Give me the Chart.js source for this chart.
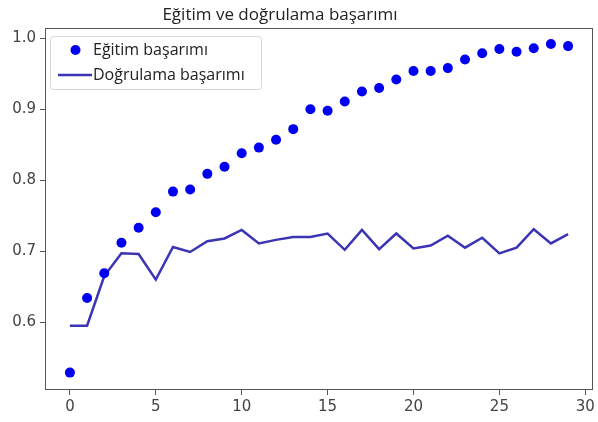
<!DOCTYPE html>
<html lang="tr">
<head>
<meta charset="utf-8">
<title>Eğitim ve doğrulama başarımı</title>
<script src="https://cdn.jsdelivr.net/npm/chart.js@4.4.1/dist/chart.umd.min.js"></script>
<style>
  html, body { margin: 0; padding: 0; background: #fff; overflow: hidden; }
  canvas { display: block; }
</style>
</head>
<body>
<canvas id="acc" width="598" height="422"></canvas>
<script>
// Epoch indices and accuracy per epoch
const epochs = [0, 1, 2, 3, 4, 5, 6, 7, 8, 9, 10, 11, 12, 13, 14,
                15, 16, 17, 18, 19, 20, 21, 22, 23, 24, 25, 26, 27, 28, 29];
const trainAcc = [0.529, 0.634, 0.669, 0.712, 0.733, 0.755, 0.784, 0.787, 0.809, 0.819,
                  0.838, 0.846, 0.857, 0.872, 0.900, 0.898, 0.911, 0.925, 0.930, 0.942,
                  0.954, 0.954, 0.958, 0.970, 0.979, 0.985, 0.981, 0.986, 0.992, 0.989];
const valAcc = [0.595, 0.595, 0.665, 0.697, 0.696, 0.660, 0.706, 0.699, 0.714, 0.718,
                0.730, 0.711, 0.716, 0.720, 0.720, 0.725, 0.702, 0.730, 0.703, 0.725,
                0.704, 0.708, 0.722, 0.705, 0.719, 0.697, 0.705, 0.731, 0.711, 0.724];

const xTicks = [0, 5, 10, 15, 20, 25, 30];
const yTicks = [0.6, 0.7, 0.8, 0.9, 1.0];

const titleText = 'Eğitim ve doğrulama başarımı';
const trainLabel = 'Eğitim başarımı';
const valLabel = 'Doğrulama başarımı';

const axisColor = '#555';
const tickFont = { family: '"DejaVu Sans", sans-serif', size: 15 };
const textFont = '"Open Sans", "Noto Sans", sans-serif';

const points = (ys) => epochs.map((e, i) => ({ x: e, y: ys[i] }));

// Axes frame, title and the in-plot legend box
const decorations = {
  id: 'decorations',
  afterDatasetsDraw(chart) {
    const { ctx, chartArea: a } = chart;
    ctx.save();
    ctx.strokeStyle = axisColor;
    ctx.lineWidth = 1;
    ctx.strokeRect(a.left + 0.5, a.top + 0.5, a.right - a.left - 1, a.bottom - a.top - 1);
    ctx.restore();
  },
  afterDraw(chart) {
    const { ctx } = chart;
    const [train, val] = chart.data.datasets;
    ctx.save();
    // title
    ctx.fillStyle = '#222';
    ctx.font = '17px ' + textFont;
    ctx.textAlign = 'center';
    ctx.textBaseline = 'alphabetic';
    ctx.fillText(titleText, 280, 20);

    // legend frame
    ctx.beginPath();
    ctx.roundRect(50.5, 36.5, 211, 53, 3);
    ctx.fillStyle = 'rgba(255,255,255,0.8)';
    ctx.fill();
    ctx.strokeStyle = '#d6d6d6';
    ctx.lineWidth = 1;
    ctx.stroke();

    // legend entries
    ctx.font = '16px ' + textFont;
    ctx.textAlign = 'left';
    ctx.textBaseline = 'middle';

    ctx.beginPath();
    ctx.arc(75.5, 50, train.pointRadius, 0, Math.PI * 2);
    ctx.fillStyle = train.backgroundColor;
    ctx.fill();
    ctx.fillStyle = '#222';
    ctx.fillText(train.label, 93, 50);

    ctx.beginPath();
    ctx.moveTo(58, 75);
    ctx.lineTo(92, 75);
    ctx.strokeStyle = val.borderColor;
    ctx.lineWidth = val.borderWidth;
    ctx.stroke();
    ctx.fillText(val.label, 93, 75);
    ctx.restore();
  }
};

new Chart(document.getElementById('acc'), {
  type: 'scatter',
  data: {
    datasets: [
      {
        label: trainLabel,
        data: points(trainAcc),
        showLine: false,
        pointRadius: 5,
        pointHoverRadius: 5,
        pointBorderWidth: 0,
        backgroundColor: '#0000f0',
        borderColor: '#0000f0'
      },
      {
        label: valLabel,
        data: points(valAcc),
        showLine: true,
        pointRadius: 0,
        pointHoverRadius: 0,
        borderColor: '#3b35b5',
        backgroundColor: '#3b35b5',
        borderWidth: 2.5,
        tension: 0
      }
    ]
  },
  options: {
    responsive: false,
    animation: false,
    devicePixelRatio: 1,
    layout: { padding: { top: 28, right: 0, bottom: 0, left: 0 } },
    plugins: {
      legend: { display: false },
      title: { display: false },
      tooltip: { enabled: false }
    },
    scales: {
      x: {
        type: 'linear',
        min: -1.45,
        max: 30.45,
        afterBuildTicks: (s) => { s.ticks = xTicks.map((v) => ({ value: v })); },
        afterFit: (s) => { s.height = 32; s.paddingLeft = 0; s.paddingRight = 0; },
        ticks: {
          autoSkip: false,
          maxRotation: 0,
          padding: 3,
          color: '#444',
          font: tickFont,
          callback: (v) => String(v)
        },
        grid: { drawOnChartArea: false, drawTicks: true, tickLength: 5, tickColor: axisColor },
        border: { display: false }
      },
      y: {
        type: 'linear',
        min: 0.5045,
        max: 1.0145,
        afterBuildTicks: (s) => { s.ticks = yTicks.map((v) => ({ value: v })); },
        afterFit: (s) => { s.width = 45; s.paddingTop = 0; s.paddingBottom = 0; },
        ticks: {
          autoSkip: false,
          padding: 4,
          color: '#444',
          font: tickFont,
          callback: (v) => v.toFixed(1)
        },
        grid: { drawOnChartArea: false, drawTicks: true, tickLength: 5, tickColor: axisColor },
        border: { display: false }
      }
    }
  },
  plugins: [decorations]
});
</script>
</body>
</html>
